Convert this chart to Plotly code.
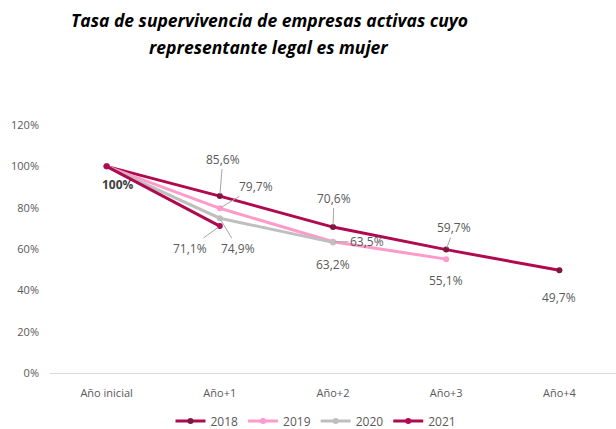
import plotly.graph_objects as go

categories = ["Año inicial", "Año+1", "Año+2", "Año+3", "Año+4"]
years = ["2018", "2019", "2020", "2021"]
v2018 = [100, 85.6, 70.6, 59.7, 49.7]
v2019 = [100, 79.7, 63.5, 55.1]
v2020 = [100, 74.9, 63.2]
v2021 = [100, 71.1]
y_ticks = [0, 20, 40, 60, 80, 100, 120]

series = [v2018, v2019, v2020, v2021]
line_colors = ["#B0094F", "#FF9ACB", "#BFBFBF", "#B0094F"]
marker_colors = ["#7E1640", "#FF9ACB", "#BFBFBF", "#B0094F"]

fig = go.Figure()
for name, vals, lc, mc in zip(years, series, line_colors, marker_colors):
    fig.add_trace(go.Scatter(
        x=categories[:len(vals)], y=vals, name=name, mode="lines+markers",
        line=dict(color=lc, width=3), marker=dict(color=mc, size=6),
        hoverinfo="skip"))

def fmt(v):
    return ("%.1f%%" % v).replace(".", ",")

# (series index, point index, ax, ay, leader)
label_specs = [
    (0, 1, 3, -37, True),
    (1, 1, 36, -22, True),
    (3, 1, -30, 22, True),
    (2, 1, 18, 30, True),
    (0, 2, 1, -29, True),
    (1, 2, 34, 0, True),
    (2, 2, 0, 22, False),
    (0, 3, 8, -22, True),
    (1, 3, 0, 21, False),
    (0, 4, 0, 27, False),
]
for si, pi, ax, ay, leader in label_specs:
    vals = series[si]
    fig.add_annotation(
        x=categories[pi], y=vals[pi], text=fmt(vals[pi]),
        showarrow=True, arrowhead=0, arrowwidth=1,
        arrowcolor="#A6A6A6" if leader else "rgba(0,0,0,0)",
        ax=ax, ay=ay, standoff=2,
        font=dict(size=12, color="#595959", family="Open Sans"))

fig.add_annotation(
    x=categories[0], y=v2018[0], text="<b>100%</b>", showarrow=True,
    arrowcolor="rgba(0,0,0,0)", ax=11, ay=18,
    font=dict(size=12, color="#404040", family="Open Sans"))

# Title as two lines
for txt, py in [("Tasa de supervivencia de empresas activas cuyo", 20),
                ("representante legal es mujer", 47)]:
    fig.add_annotation(xref="paper", yref="paper", x=(269 - 50) / 566,
                       y=(373 - py) / 248, xanchor="center", yanchor="middle",
                       text=f"<b><i>{txt}</i></b>", showarrow=False,
                       font=dict(size=17.5, color="#000000", family="Open Sans"))

fig.update_layout(
    width=616, height=429,
    margin=dict(l=50, r=0, t=125, b=56),
    paper_bgcolor="white", plot_bgcolor="white",
    font=dict(family="Open Sans", color="#595959"),
    showlegend=True,
    legend=dict(orientation="h", xref="container", yref="container",
                x=316 / 616, xanchor="center", y=1 - 421 / 429, yanchor="middle",
                font=dict(size=12, color="#595959"), itemwidth=30,
                traceorder="normal"),
    xaxis=dict(type="category", categoryarray=categories, range=[-0.5, 4.5],
               showgrid=False, showline=True, linecolor="#D9D9D9", linewidth=1,
               ticks="", ticklabelstandoff=10,
               tickfont=dict(size=11, color="#595959"), zeroline=False),
    yaxis=dict(range=[0, 120], tickvals=y_ticks,
               ticktext=[f"{t}%" for t in y_ticks], showgrid=False,
               zeroline=False, showline=False, ticks="", ticklabelstandoff=10,
               tickfont=dict(size=11, color="#595959")),
)

fig.write_html("out.html", config={"displayModeBar": False},
               post_script="document.body.style.margin='0';")
